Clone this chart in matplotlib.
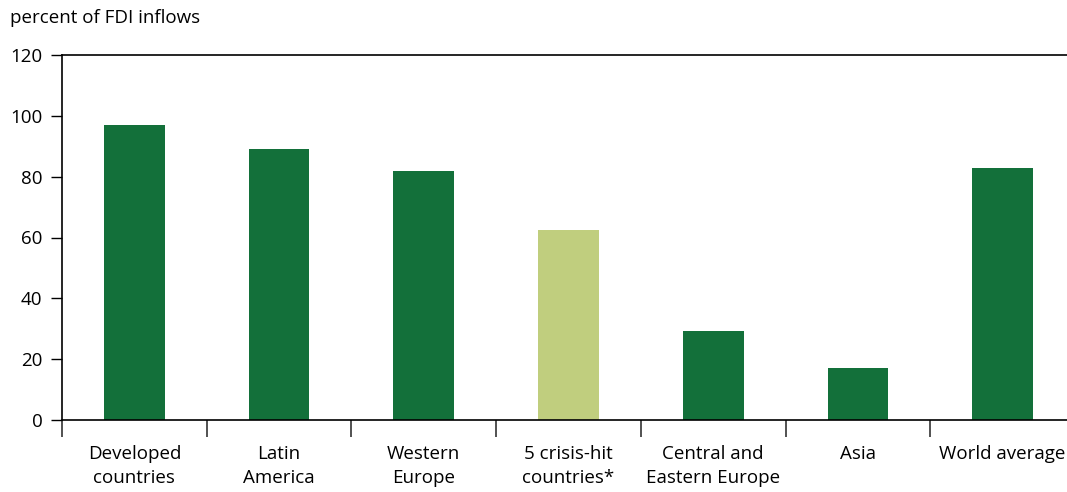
import matplotlib
matplotlib.use("Agg")
import matplotlib.pyplot as plt
import numpy as np

categories = ["Developed\ncountries", "Latin\nAmerica", "Western\nEurope",
              "5 crisis-hit\ncountries*", "Central and\nEastern Europe", "Asia",
              "World average"]
values = [97, 89, 82, 62.5, 29.3, 17.1, 83]
colors = ["#13703a", "#13703a", "#13703a", "#c0ce7e", "#13703a", "#13703a", "#13703a"]
yticks = [0, 20, 40, 60, 80, 100, 120]

plt.rcParams['font.family'] = ['Open Sans', 'DejaVu Sans']

fig = plt.figure(figsize=(10.67, 4.92), dpi=100)
ax = fig.add_axes([62/1067, 72/492, (1075-62)/1067, (420-55)/492])

x = np.arange(len(categories))
ax.bar(x, values, width=0.42, color=colors)

ax.set_xlim(-0.5, len(categories) - 0.5)
ax.set_ylim(0, 120)
ax.set_yticks(yticks)
ax.tick_params(axis='y', length=8, width=1, labelsize=13.5, pad=6)

# boundaries as major ticks, labels at centres
ax.set_xticks(np.arange(len(categories) + 1) - 0.5)
ax.set_xticklabels([])
ax.set_xticks(x, minor=True)
ax.set_xticklabels(categories, minor=True, fontsize=13.5, linespacing=1.45)
ax.tick_params(axis='x', which='major', length=12, width=1.2, color='#333333')
ax.tick_params(axis='x', which='minor', length=0, pad=18)

ax.spines['right'].set_visible(False)
for s in ['left', 'bottom', 'top']:
    ax.spines[s].set_linewidth(1.2)

fig.text(10/1067, 1 - 18/492, "percent of FDI inflows", fontsize=13.5, va='center', ha='left')

fig.savefig("out.png", dpi=100)
